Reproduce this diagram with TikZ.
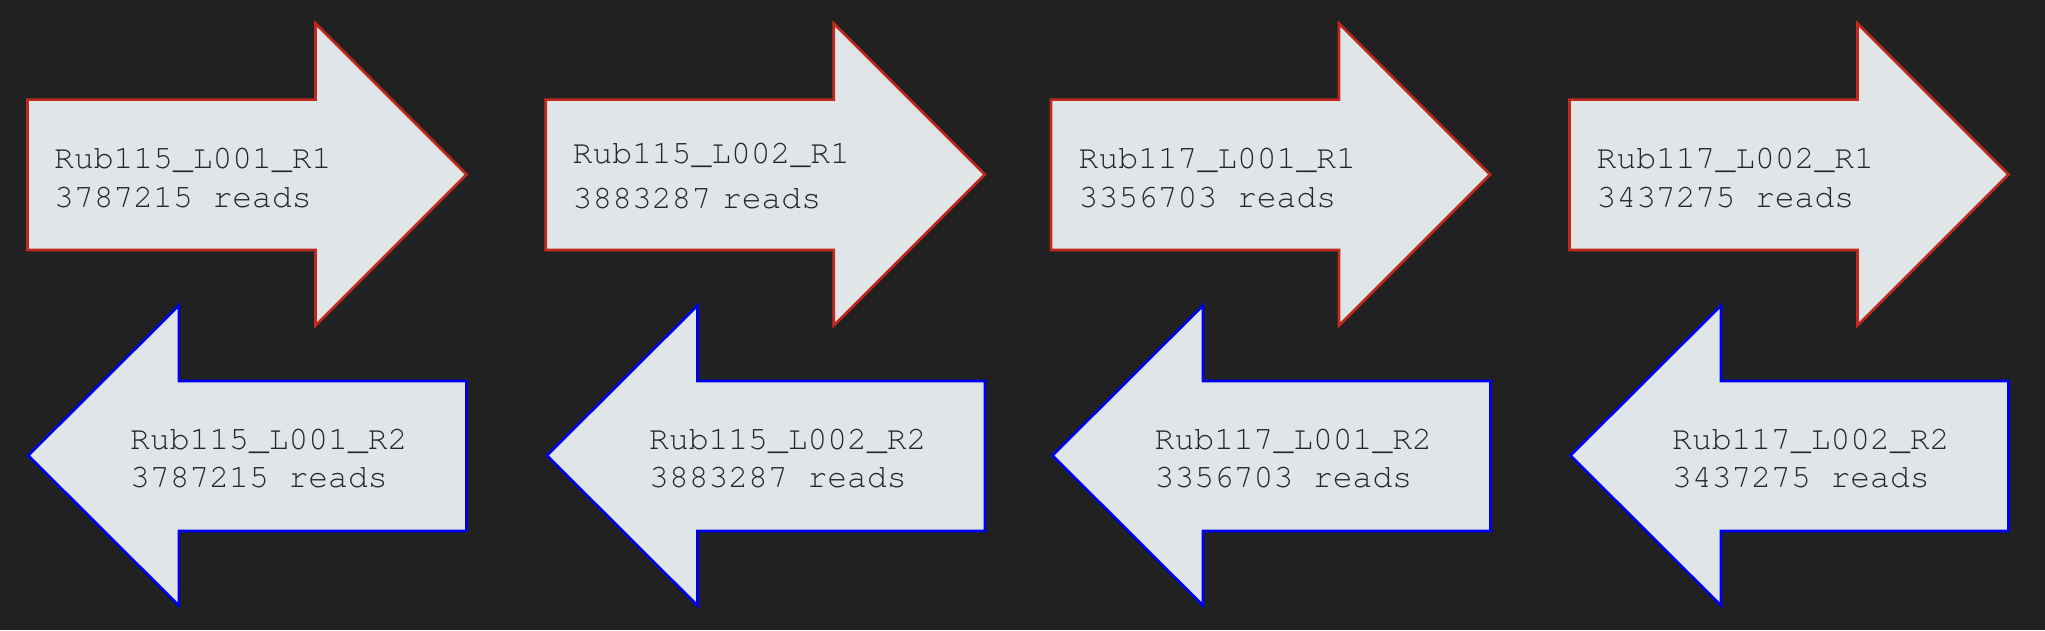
\documentclass[tikz,border=0pt]{standalone}
\usepackage{fontspec}
\newfontfamily\courfont{TeX Gyre Cursor}
\definecolor{bgc}{HTML}{212121}
\definecolor{fillc}{HTML}{E0E5E7}
\definecolor{redc}{HTML}{C02A1E}
\definecolor{bluec}{HTML}{0000F0}
\definecolor{txtc}{HTML}{262626}
\begin{document}
\begin{tikzpicture}[x=1pt,y=-1pt,
  rarrow/.style={draw=redc,fill=fillc,line width=2.6pt,line join=miter},
  larrow/.style={draw=bluec,fill=fillc,line width=2.6pt,line join=miter},
  lbl/.style={anchor=base west,inner sep=0pt,text=txtc,font=\courfont\fontsize{33}{39}\selectfont}]
\fill[bgc] (0,0) rectangle (2045,630);
\useasboundingbox (0,0) rectangle (2045,630);
% right-pointing (R1) arrows
\foreach \L in {27.5,545.7,1051,1569.5}{
  \draw[rarrow] (\L,99.6) -- (\L+288,99.6) -- (\L+288,23.5) -- (\L+439,174.5)
    -- (\L+288,325.5) -- (\L+288,250) -- (\L,250) -- cycle;
}
% left-pointing (R2) arrows
\foreach \T in {28.3,547,1052.5,1570.5}{
  \draw[larrow] (\T,455.5) -- (\T+150.5,305.5) -- (\T+150.5,381) -- (\T+438,381)
    -- (\T+438,531) -- (\T+150.5,531) -- (\T+150.5,605.5) -- cycle;
}
% R1 labels
\node[lbl] (a1) at (54,168) {Rub115\_L001\_R1};
\node[lbl] (a2) at (54,207) {3787215 reads};
\node[lbl] (b1) at (572.5,163.3) {Rub115\_L002\_R1};
\node[lbl] (b2) at (572.5,208.3) {3883287\kern-9pt{} reads};
\node[lbl] (c1) at (1078.5,168) {Rub117\_L001\_R1};
\node[lbl] (c2) at (1078.5,207) {3356703 reads};
\node[lbl] (d1) at (1596.5,168) {Rub117\_L002\_R1};
\node[lbl] (d2) at (1596.5,207) {3437275 reads};
% R2 labels
\node[lbl] (e1) at (130,449) {Rub115\_L001\_R2};
\node[lbl] (e2) at (130,487) {3787215 reads};
\node[lbl] (f1) at (649,449) {Rub115\_L002\_R2};
\node[lbl] (f2) at (649,487) {3883287 reads};
\node[lbl] (g1) at (1154.5,449) {Rub117\_L001\_R2};
\node[lbl] (g2) at (1154.5,487) {3356703 reads};
\node[lbl] (h1) at (1672,449) {Rub117\_L002\_R2};
\node[lbl] (h2) at (1672,487) {3437275 reads};
\end{tikzpicture}
\end{document}
